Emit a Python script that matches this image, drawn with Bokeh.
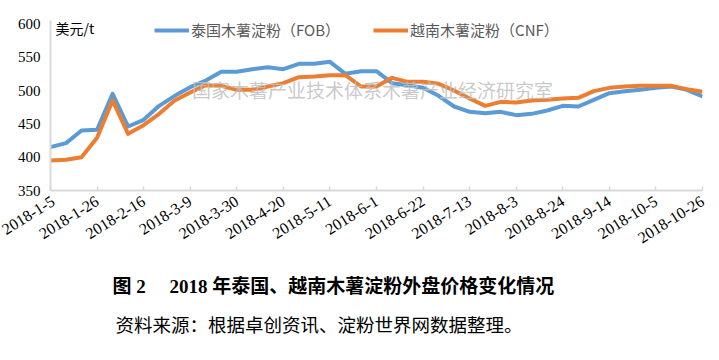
from bokeh.plotting import figure
from bokeh.layouts import column
from bokeh.models import (ColumnDataSource, Range1d, FixedTicker, Label, Legend, LegendItem)
from bokeh.embed import file_html
from bokeh.resources import INLINE

# ---- data ----
dates = ["2018-1-5", "2018-1-12", "2018-1-19", "2018-1-26", "2018-2-2", "2018-2-9",
         "2018-2-16", "2018-2-23", "2018-3-2", "2018-3-9", "2018-3-16", "2018-3-23",
         "2018-3-30", "2018-4-6", "2018-4-13", "2018-4-20", "2018-4-27", "2018-5-4",
         "2018-5-11", "2018-5-18", "2018-5-25", "2018-6-1", "2018-6-8", "2018-6-15",
         "2018-6-22", "2018-6-29", "2018-7-6", "2018-7-13", "2018-7-20", "2018-7-27",
         "2018-8-3", "2018-8-10", "2018-8-17", "2018-8-24", "2018-8-31", "2018-9-7",
         "2018-9-14", "2018-9-21", "2018-9-28", "2018-10-5", "2018-10-12", "2018-10-19",
         "2018-10-26"]

thai_fob = [415, 421, 440, 441, 495, 446, 456, 477, 492, 505, 515, 528, 528, 532, 535,
            532, 540, 540, 543, 525, 529, 529, 511, 508, 504, 492, 476, 468, 466, 468,
            463, 465, 470, 477, 476, 486, 496, 499, 501, 504, 506, 501, 491]

vn_cnf = [395, 396, 400, 429, 485, 435, 448, 465, 485, 497, 508, 507, 501, 501, 506,
          511, 520, 521, 523, 523, 506, 506, 519, 513, 513, 510, 500, 488, 477, 483,
          482, 485, 486, 488, 489, 499, 504, 506, 507, 507, 507, 502, 498]

series_names = ["泰国木薯淀粉（FOB）", "越南木薯淀粉（CNF）"]
y_ticks = [350, 400, 450, 500, 550, 600]
tick_every = 3
unit_text = "美元/t"
watermark_text = "国家木薯产业技术体系木薯产业经济研究室"
title_text = "图 2\u3000\u00a02018 年泰国、越南木薯淀粉外盘价格变化情况"
source_text = "资料来源：根据卓创资讯、淀粉世界网数据整理。"

idx = list(range(len(dates)))
src = ColumnDataSource(dict(x=idx, thai=thai_fob, vn=vn_cnf, date=dates))

CJK = "Noto Sans CJK SC"
SERIF = "Liberation Serif"
BLUE = "#5B9BD5"
ORANGE = "#ED7D31"
AXIS_GRAY = "#D9D9D9"

p = figure(width=719, height=262, output_backend="svg", toolbar_location=None,
           x_range=Range1d(0, len(dates) - 1), y_range=Range1d(y_ticks[0], 605),
           min_border_left=50, min_border_right=17, min_border_top=20, min_border_bottom=72)
p.outline_line_color = None
p.xgrid.visible = False
p.ygrid.visible = False
p.background_fill_color = "white"
p.border_fill_color = "white"

r1 = p.line("x", "thai", source=src, line_color=BLUE, line_width=4, line_join="round")
r2 = p.line("x", "vn", source=src, line_color=ORANGE, line_width=4, line_join="round")

# x axis
xa = p.xaxis[0]
xa.ticker = FixedTicker(ticks=idx[::tick_every])
xa.major_label_overrides = {i: dates[i] for i in idx[::tick_every]}
xa.major_label_orientation = 0.56
xa.major_label_text_font = SERIF
xa.major_label_text_font_size = "16px"
xa.major_label_text_color = "#000000"
xa.axis_line_color = AXIS_GRAY
xa.axis_line_width = 2
xa.major_tick_line_color = AXIS_GRAY
xa.major_tick_line_width = 1.5
xa.major_tick_in = 4
xa.major_tick_out = 0
xa.minor_tick_line_color = None
xa.major_label_standoff = 9

# y axis
ya = p.yaxis[0]
ya.ticker = FixedTicker(ticks=y_ticks)
ya.major_label_text_font = SERIF
ya.major_label_text_font_size = "15px"
ya.major_label_text_color = "#000000"
ya.axis_line_color = AXIS_GRAY
ya.axis_line_width = 2
ya.major_tick_line_color = None
ya.minor_tick_line_color = None
ya.major_tick_in = 0
ya.major_tick_out = 0
ya.major_label_standoff = 10

# legend
legend = Legend(items=[LegendItem(label=series_names[0], renderers=[r1]),
                       LegendItem(label=series_names[1], renderers=[r2])],
                location=(104, 150), orientation="horizontal",
                glyph_width=35, glyph_height=20, label_standoff=2, spacing=33,
                padding=0, margin=0, border_line_color=None, background_fill_alpha=0,
                label_text_font=CJK, label_text_font_size="15px",
                label_text_color="#595959")
p.add_layout(legend)

# unit label
p.add_layout(Label(x=5, y=163, x_units="screen", y_units="screen", text=unit_text,
                   text_font=CJK, text_font_size="14px", text_color="#000000",
                   text_baseline="middle", text_align="left"))

# watermark
p.add_layout(Label(x=322, y=101, x_units="screen", y_units="screen", text=watermark_text,
                   text_font=CJK, text_font_size="19px", text_color="#BFBFBF",
                   text_alpha=0.85, text_baseline="middle", text_align="center"))

# caption figure (its frame is aligned with the chart frame, which starts at x=50)
cap = figure(width=719, height=98, output_backend="svg", toolbar_location=None,
             x_range=Range1d(0, 719), y_range=Range1d(0, 98),
             x_axis_type=None, y_axis_type=None,
             min_border=0, min_border_left=0, min_border_right=0,
             min_border_top=0, min_border_bottom=0)
cap.outline_line_color = None
cap.xgrid.visible = False
cap.ygrid.visible = False
cap.add_layout(Label(x=62, y=74, x_units="screen", y_units="screen", text=title_text,
                     text_font=SERIF + ", " + CJK, text_font_size="19px",
                     text_font_style="bold", text_color="#000000",
                     text_baseline="middle", text_align="left"))
cap.add_layout(Label(x=65, y=37, x_units="screen", y_units="screen", text=source_text,
                     text_font=CJK, text_font_size="18.5px", text_color="#000000",
                     text_baseline="middle", text_align="left"))

layout = column(p, cap, spacing=0)
open("out.html", "w").write(file_html(layout, INLINE))
